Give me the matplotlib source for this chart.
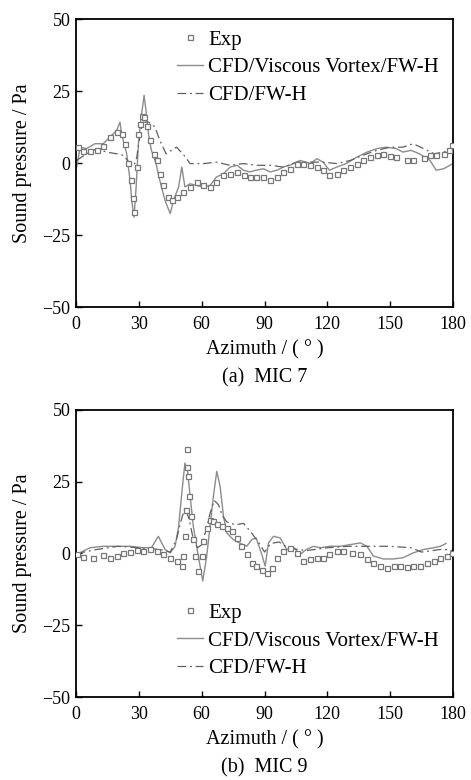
import matplotlib
matplotlib.use("Agg")
import matplotlib.pyplot as plt
import numpy as np

plt.rcParams['font.family'] = ['Liberation Serif', 'DejaVu Serif']
plt.rcParams['mathtext.fontset'] = 'stix'

# ---- MIC 7 ----
m7_exp_x = [1, 3.5, 6.7, 10, 13, 16, 19.4, 21.8, 23.4, 25, 26.3, 27, 27.7, 29, 29.8, 30.6, 31.4, 32.5,
            33.8, 35.3, 37, 38.5, 40, 41.7, 44, 45.7, 48, 51, 54.5, 57.6, 60.8, 64, 67, 70.4, 73.6,
            76.8, 80, 83, 86, 89.5, 92.7, 95.9, 99, 102, 105.4, 108.6, 111.8, 115, 118, 121, 124.5,
            127.7, 131, 134, 137, 140.4, 143.6, 146.8, 150, 153, 158, 161, 166, 169, 172, 175.5, 178, 179.5]
m7_exp_y = [5.5, 4.2, 4.2, 4.4, 6, 9, 10.8, 10, 6.7, 0, -6, -12, -17, -1.4, 10, 13.7, 16.5, 16,
            13, 8, 3.2, 1, -3.7, -7.8, -11.8, -13, -11.8, -10, -8.3, -6.6, -7.8, -8.3, -6.6, -4.3, -3.7,
            -3.1, -4.3, -4.9, -4.9, -4.9, -6, -4.9, -3.1, -2, -0.2, -0.2, -0.8, -1.4, -2.5, -4.3, -3.7,
            -2.5, -1.4, -0.2, 0.9, 2, 2.7, 3, 2.3, 2, 0.9, 1.2, 1.9, 2.7, 2.7, 3.2, 4.4, 6.1]

m7_vv_x = [0.3, 2, 5, 9, 13, 17, 19.4, 21, 21.8, 24.2, 25.8, 26.6, 27.7, 28.7, 29.8, 30.9, 32.5, 33.4,
           34.6, 36, 38.2, 40, 42.5, 45, 46.5, 49, 50.5, 52, 54.5, 57.6, 60.8, 64, 67, 70.4, 73.6,
           76.8, 80, 83, 86, 89.5, 92.7, 96, 99, 102, 107, 112, 115, 118, 121, 124.5, 129, 134, 139,
           143.6, 148, 153, 156, 160, 164, 169, 172, 175.5, 180]
m7_vv_y = [-1.4, 5.5, 5, 6.7, 6.7, 9.6, 11.3, 14.2, 10, 3.2, -6, -13, -18.8, -8.3, 6.7, 14.8, 23.5, 18.3,
           10, 4.4, -0.2, -6, -13, -17.6, -13, -8.3, -1.4, -8.3, -7.2, -7.8, -8.3, -7.8, -4.9, -3.7, -1.4,
           -0.8, -2.5, -3.1, -2.5, -2, -3.1, -2.5, -1.4, -0.8, 0.9, -0.2, 1.5, 0.3, -2.5, -1.4, -0.2, 2, 3.8,
           5, 5.5, 5, 3.8, 4.4, 3.2, 0.9, -2.5, -2, -0.2]

m7_fw_x = [0.3, 5, 10, 14.6, 19.4, 22.6, 25.8, 27.7, 29, 30.6, 32, 34.6, 37.7, 40, 43, 48, 51, 54.5,
           60.8, 67, 73.6, 80, 86, 92.7, 99, 105.4, 112, 118, 124.5, 131, 137, 143.6, 150, 156, 161,
           166, 171, 175.5, 180]
m7_fw_y = [0.9, 3.2, 5, 3.8, 3.2, 2.7, -0.2, -0.8, 2, 10, 14.2, 14.2, 12.5, 7.9, 3.2, 5.5, 3.2, -0.2,
           -0.2, 0.3, -0.8, -0.2, -0.8, -0.8, -1.4, 0.3, 0.3, 0.3, -0.2, 0.9, 2.7, 4.4, 5.5, 5.5, 6.7,
           5, 3.2, 3.8, 5]

# ---- MIC 9 ----
m9_exp_x = [0.3, 3.5, 8.3, 13, 16, 19.4, 22.6, 25.8, 29, 32, 35.4, 38.5, 41.7, 45, 48, 50.5, 51.3, 52,
            52.5, 52.9, 53.2, 53.7, 54.1, 54.8, 55.7, 56.8, 58.4, 60, 60.8, 62.4, 64, 65.6, 67.2, 69.6,
            72, 74.4, 76.8, 79, 81.5, 84, 86, 88.7, 91, 93.5, 95.9, 99, 102, 105.4, 108.6, 111.8, 115,
            118, 121, 124.5, 127.7, 131.7, 135.7, 138.9, 142, 145, 148.4, 151.6, 154.8, 158, 161, 164.3,
            167.5, 170.7, 174, 177, 179.5]
m9_exp_y = [-0.3, -1.2, -1.5, -0.7, -1.5, -0.9, 0, 0.5, 1.2, 0.8, 1.4, 0.8, -0.3, -1.5, -2.7, -4.2, -0.9, 6,
            15.3, 36.3, 30, 26.9, 20, 13, 4.9, -0.9, -6.1, -0.9, 4.3, 8.9, 11.8, 11.2, 10.4, 9.5,
            8.9, 7.8, 5.4, 2.5, -0.3, -3.2, -4.4, -5.6, -6.7, -5, -1.5, 0.8, 2, 0.2, -2.7, -1.9, -1.5,
            -1.5, -0.3, 0.8, 0.8, 0, -0.3, -1.9, -3.2, -4.4, -5, -4.4, -4.4, -4.6, -4.4, -4.4,
            -3.2, -2.7, -1.5, -0.9, 0]

m9_vv_x = [0.3, 6.7, 13, 19.4, 25.8, 32, 36, 39.3, 42.5, 45, 47.3, 49, 50.5, 52, 53.2, 54.5, 56, 58.4,
           60.5, 62.4, 64, 65.6, 67.2, 68.8, 70.4, 72, 75, 78, 81.5, 84, 86, 88.7, 90.3, 91.9, 94.3,
           97.5, 100.6, 104, 107, 110, 113.4, 116.6, 121, 126, 131, 135.7, 138.9, 142, 146.8, 151.6,
           156, 161, 166, 170.7, 174, 176.7]
m9_vv_y = [-0.3, 2, 2.5, 2.5, 2.5, 2, 2, 6, 1.4, 0.2, 2.5, 9.5, 21, 31.5, 29, 20, 9.5, -0.9,
           -9.6, -0.9, 9.5, 20, 28.6, 23.4, 13, 7.2, 4.9, 3.7, 2.5, 4.9, 5.4, -0.3, -4.4, 3.7, 6,
           5.4, 1.4, 2, -0.3, 1.4, 2.5, 2, 2.5, 2.5, 3.1, 3.7, 2.5, -0.9, -1.9, -1.9,
           -1.5, 0.2, 1.4, 2, 2.5, 3.5]

m9_fw_x = [0.3, 10, 20, 30, 40, 45, 48, 50, 52, 54, 56, 58, 60, 62, 64, 66, 68, 70, 72, 76, 80, 84, 88,
           90, 93, 97, 100, 105, 110, 120, 130, 140, 150, 160, 165, 170, 175, 180]
m9_fw_y = [0, 1.4, 2.5, 2, 1.4, 0.5, 5, 11, 16, 12, 5, 2, 3, 8, 14, 18.5, 17, 13, 11, 10, 10.5, 7, 3,
           0.5, 3.5, 4, 2.5, 1.5, 1, 2, 2.5, 2.5, 2.5, 2, 0.5, 1, 1.5, 1]

x_ticks = [0, 30, 60, 90, 120, 150, 180]
y_ticks = [-50, -25, 0, 25, 50]
y_ticklabels = ['\u221250', '\u221225', '0', '25', '50']
labels = ["Exp", "CFD/Viscous Vortex/FW-H", "CFD/FW-H"]
captions = ["(a)  MIC 7", "(b)  MIC 9"]

fig = plt.figure(figsize=(4.71, 7.80), dpi=100)
ax1 = fig.add_axes([0.1614, 0.6064, 0.8004, 0.3692])
ax2 = fig.add_axes([0.1614, 0.1064, 0.8004, 0.3680])

line_c = '#8c8c8c'
mk_c = '#777777'
TICK_FS = 13
LAB_FS = 14.5
LEG_FS = 15

def draw(ax, ex, ey, vx, vy, fx, fy, leg_anchor, caption):
    ax.plot(vx, vy, '-', color=line_c, lw=1.0, label=labels[1], zorder=2)
    ax.plot(fx, fy, color='#606060', lw=0.9, dashes=(7, 3, 1.5, 3), label=labels[2], zorder=2)
    ax.plot(ex, ey, 's', ms=3.6, mfc='white', mec=mk_c, mew=0.9, ls='none', label=labels[0], zorder=3)
    ax.set_xlim(0, 180)
    ax.set_ylim(-50, 50)
    ax.set_xticks(x_ticks)
    ax.set_yticks(y_ticks)
    ax.set_yticklabels(y_ticklabels)
    ax.tick_params(direction='in', length=4, width=1, labelsize=TICK_FS)
    ax.tick_params(axis='x', pad=6.5)
    ax.tick_params(axis='y', pad=4)
    for s in ax.spines.values():
        s.set_linewidth(1.3)
    ax.set_xlabel('Azimuth / ( \u00b0 )', fontsize=LAB_FS)
    ax.xaxis.set_label_coords(0.5, -0.149)
    ax.xaxis.label.set_va('center')
    ax.set_ylabel('Sound pressure / Pa', fontsize=LAB_FS)
    ax.yaxis.set_label_coords(-0.143, 0.5)
    ax.yaxis.label.set_va('center')
    h, l = ax.get_legend_handles_labels()
    order = [2, 0, 1]
    ax.legend([h[i] for i in order], [l[i] for i in order], loc='upper left',
              bbox_to_anchor=leg_anchor, frameon=False, fontsize=LEG_FS,
              handlelength=1.25, handletextpad=0.25, labelspacing=0.4,
              borderpad=0, borderaxespad=0)
    ax.text(0.5, -0.2465, caption, transform=ax.transAxes, ha='center', va='center',
            fontsize=LAB_FS)

draw(ax1, m7_exp_x, m7_exp_y, m7_vv_x, m7_vv_y, m7_fw_x, m7_fw_y, (0.268, 0.962), captions[0])
draw(ax2, m9_exp_x, m9_exp_y, m9_vv_x, m9_vv_y, m9_fw_x, m9_fw_y, (0.268, 0.3275), captions[1])

fig.savefig('out.png', dpi=100)
